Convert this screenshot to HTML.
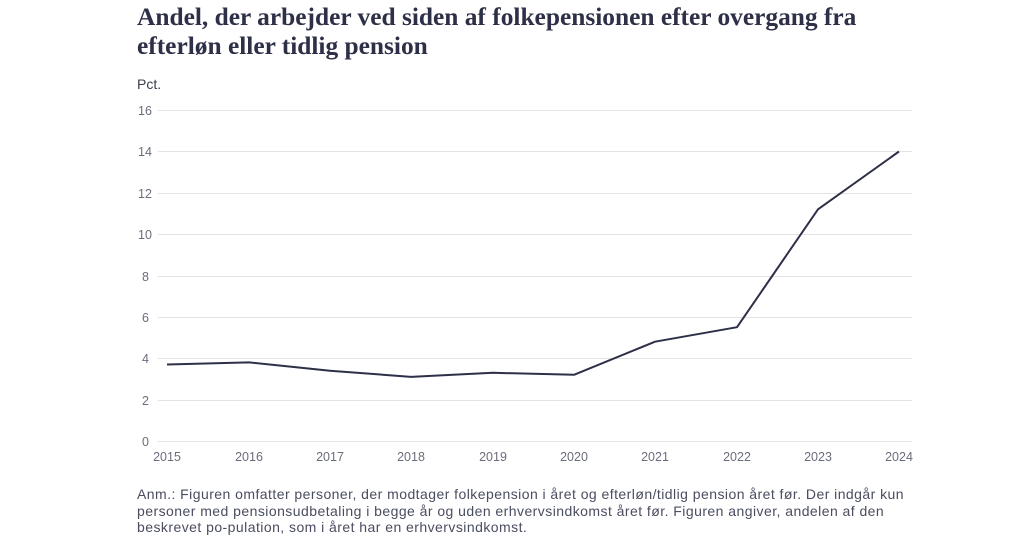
<!DOCTYPE html>
<html><head><meta charset="utf-8"><style>
body{margin:0;width:1024px;height:536px;background:#fff;overflow:hidden;font-family:"Liberation Sans",sans-serif;color:#2d3047}
.t{position:absolute;left:137px;top:3px;font-family:"Liberation Serif",serif;font-weight:bold;font-size:25.4px;line-height:29px;color:#2d3047;white-space:nowrap}
.n{position:absolute;left:137px;top:486px;font-size:14px;letter-spacing:0.45px;line-height:16.5px;color:#4a4d60;white-space:nowrap}
</style></head><body>
<div class="t">Andel, der arbejder ved siden af folkepensionen efter overgang fra<br>efterløn eller tidlig pension</div>
<svg width="1024" height="536" style="position:absolute;left:0;top:0" font-family="Liberation Sans, sans-serif">
<text x="137" y="89" font-size="14" fill="#3a3d50">Pct.</text>
<g stroke="#e3e3e6" stroke-width="1">
<line x1="158" x2="912" y1="110.5" y2="110.5"/><line x1="158" x2="912" y1="151.5" y2="151.5"/>
<line x1="158" x2="912" y1="193.5" y2="193.5"/><line x1="158" x2="912" y1="234.5" y2="234.5"/>
<line x1="158" x2="912" y1="276.5" y2="276.5"/><line x1="158" x2="912" y1="317.5" y2="317.5"/>
<line x1="158" x2="912" y1="358.5" y2="358.5"/><line x1="158" x2="912" y1="400.5" y2="400.5"/>
<line x1="158" x2="912" y1="441.5" y2="441.5"/></g>
<g font-size="12.5" fill="#6a6d7c">
<text x="138" y="115">16</text><text x="138" y="156">14</text><text x="138" y="198">12</text><text x="138" y="239">10</text>
<text x="142" y="281">8</text><text x="142" y="322">6</text><text x="142" y="363">4</text><text x="142" y="405">2</text><text x="142" y="446">0</text>
</g>
<g font-size="12.5" fill="#6a6d7c" text-anchor="middle">
<text x="167" y="461">2015</text><text x="249" y="461">2016</text><text x="330" y="461">2017</text><text x="411" y="461">2018</text><text x="493" y="461">2019</text>
<text x="574" y="461">2020</text><text x="655" y="461">2021</text><text x="737" y="461">2022</text><text x="818" y="461">2023</text><text x="899" y="461">2024</text>
</g>
<polyline fill="none" stroke="#2d3047" stroke-width="2" stroke-linejoin="round"
points="167,364.5 249,362.4 330,370.7 411,376.9 493,372.8 574,374.8 655,341.7 737,327.2 818,209.3 899,151.5"/>
</svg>
<div class="n">Anm.: Figuren omfatter personer, der modtager folkepension i året og efterløn/tidlig pension året før. Der indgår kun<br>personer med pensionsudbetaling i begge år og uden erhvervsindkomst året før. Figuren angiver, andelen af den<br>beskrevet po-pulation, som i året har en erhvervsindkomst.</div>
</body></html>
